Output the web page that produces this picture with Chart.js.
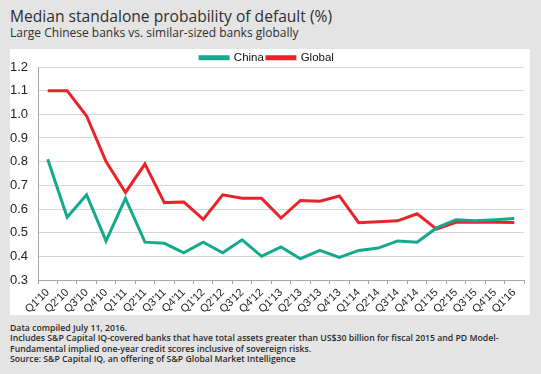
<!DOCTYPE html>
<html><head><meta charset="utf-8">
<script src="https://cdn.jsdelivr.net/npm/chart.js@4.4.1/dist/chart.umd.min.js"></script>
<style>
html,body{margin:0;padding:0;}
body{width:541px;height:374px;background:#e4e4e4;position:relative;overflow:hidden;font-family:"Open Sans",sans-serif;color:#333;}
#title{position:absolute;left:10px;top:5px;font-size:15.6px;line-height:22px;white-space:nowrap;color:#2f2f2f;}
#sub{position:absolute;left:10px;top:24px;font-size:12px;line-height:18px;white-space:nowrap;color:#2f2f2f;}
#panel{position:absolute;left:10px;top:49px;width:520px;height:266px;background:#fff;}
#foot{position:absolute;left:10px;top:323px;font-size:8.7px;line-height:10.4px;font-weight:600;color:#2a2a2a;white-space:nowrap;}
</style></head><body>
<div id="title">Median standalone probability of default (%)</div>
<div id="sub">Large Chinese banks vs. similar-sized banks globally</div>
<div id="panel"><canvas id="c" width="520" height="266"></canvas></div>
<div id="foot">Data compiled July 11, 2016.<br>Includes S&amp;P Capital IQ-covered banks that have total assets greater than US$30 billion for fiscal 2015 and PD Model-<br>Fundamental implied one-year credit scores inclusive of sovereign risks.<br>Source: S&amp;P Capital IQ, an offering of S&amp;P Global Market Intelligence</div>
<script>
const categories = ["Q1'10","Q2'10","Q3'10","Q4'10","Q1'11","Q2'11","Q3'11","Q4'11","Q1'12","Q2'12","Q3'12","Q4'12","Q1'13","Q2'13","Q3'13","Q4'13","Q1'14","Q2'14","Q3'14","Q4'14","Q1'15","Q2'15","Q3'15","Q4'15","Q1'16"];
const chinaValues = [0.81,0.565,0.66,0.465,0.645,0.46,0.455,0.415,0.46,0.415,0.47,0.40,0.44,0.39,0.425,0.395,0.425,0.435,0.465,0.46,0.52,0.555,0.55,0.555,0.56];
const globalValues = [1.10,1.10,0.993,0.80,0.67,0.79,0.627,0.63,0.556,0.66,0.645,0.645,0.562,0.636,0.633,0.655,0.542,0.546,0.55,0.58,0.515,0.544,0.545,0.544,0.543];
const yTicks = [0.3,0.4,0.5,0.6,0.7,0.8,0.9,1.0,1.1,1.2];
const seriesNames = ["China","Global"];
const chinaColor = "#14a98c";
const globalColor = "#ea2229";

const legendHeight = {
  id:'legendHeight',
  beforeInit(chart){
    const orig = chart.legend.fit;
    chart.legend.fit = function(){ orig.bind(chart.legend)(); this.height = 18; };
  }
};

new Chart(document.getElementById('c'), {
  type:'line',
  data:{
    labels:categories,
    datasets:[
      {label:seriesNames[0],data:chinaValues,borderColor:chinaColor,backgroundColor:chinaColor,borderWidth:3,pointRadius:0,tension:0,borderJoinStyle:'miter'},
      {label:seriesNames[1],data:globalValues,borderColor:globalColor,backgroundColor:globalColor,borderWidth:3,pointRadius:0,tension:0,borderJoinStyle:'miter'}
    ]
  },
  options:{
    responsive:false,animation:false,
    layout:{padding:{left:0,right:6,top:0,bottom:0}},
    plugins:{
      legend:{display:true,position:'top',align:'center',
        labels:{boxWidth:28,boxHeight:2,padding:3,color:'#111',font:{family:'"Liberation Sans", Arial, sans-serif',size:11.5}}},
      tooltip:{enabled:false}
    },
    scales:{
      y:{min:0.3,max:1.2,
        afterBuildTicks(s){ s.ticks = yTicks.map(v=>({value:v})); },
        afterFit(s){ s.width = 28; },
        ticks:{padding:10,color:'#222',font:{family:'"Liberation Sans", Arial, sans-serif',size:13},callback:v=>v.toFixed(1)},
        grid:{color:'#d6d6d6',lineWidth:1,drawTicks:false},
        border:{display:true,color:'#a6a6a6'}
      },
      x:{offset:true,
        afterFit(s){ s.height = 35; },
        ticks:{minRotation:45,maxRotation:45,autoSkip:false,padding:2,color:'#222',font:{family:'"Liberation Sans", Arial, sans-serif',size:11}},
        grid:{drawOnChartArea:false,drawTicks:true,tickLength:4,color:'#a6a6a6',offset:true},
        border:{display:true,color:'#a6a6a6'}
      }
    }
  },
  plugins:[legendHeight]
});
</script>
</body></html>
